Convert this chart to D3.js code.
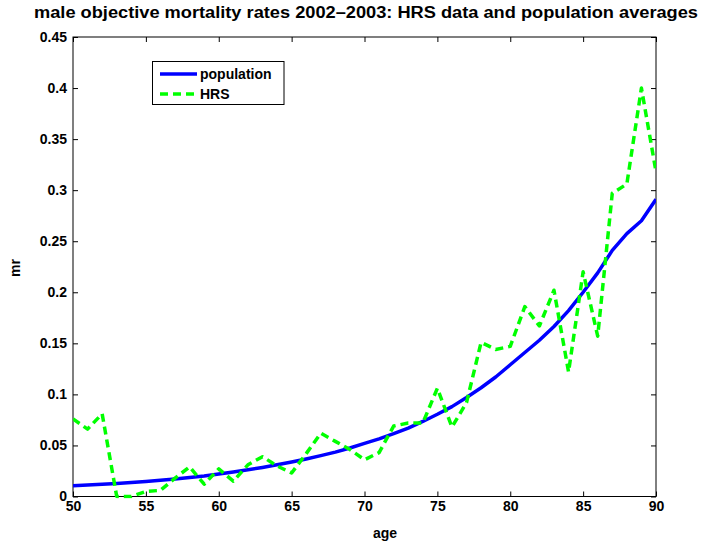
<!DOCTYPE html>
<html>
<head>
<meta charset="utf-8">
<script src="https://cdn.jsdelivr.net/npm/d3@7"></script>
<style>
  html, body { margin: 0; padding: 0; background: #fff; }
  svg { display: block; }
  text { font-family: "Liberation Sans", Arial, Helvetica, sans-serif; font-weight: bold; }
</style>
</head>
<body>
<svg id="chart" width="701" height="544"></svg>
<script>
// ---- data ----
const ages = d3.range(50, 91);
const population = [
  0.0105, 0.0112, 0.0120, 0.0128, 0.0137, 0.0148, 0.0160, 0.0172, 0.0185, 0.0200,
  0.0220, 0.0240, 0.0262, 0.0285, 0.0310, 0.0338, 0.0368, 0.0400, 0.0435, 0.0475,
  0.0520, 0.0565, 0.0615, 0.0670, 0.0735, 0.0805, 0.0880, 0.0970, 0.1065, 0.1170,
  0.1290, 0.1410, 0.1530, 0.1665, 0.1820, 0.2000, 0.2190, 0.2410, 0.2575, 0.2700,
  0.2910
];
const hrs = [
  0.076, 0.066, 0.081, 0.000, 0.000, 0.005, 0.006, 0.018, 0.029, 0.012,
  0.027, 0.015, 0.031, 0.039, 0.030, 0.023, 0.042, 0.062, 0.054, 0.046,
  0.036, 0.043, 0.069, 0.072, 0.072, 0.106, 0.068, 0.092, 0.151, 0.144,
  0.147, 0.186, 0.167, 0.202, 0.122, 0.220, 0.157, 0.297, 0.306, 0.400,
  0.318
];
const xTicks = [50, 55, 60, 65, 70, 75, 80, 85, 90];
const yTicks = [0, 0.05, 0.1, 0.15, 0.2, 0.25, 0.3, 0.35, 0.4, 0.45];
const seriesNames = ["population", "HRS"];
const titleText = "male objective mortality rates 2002\u20132003: HRS data and population averages";
const xLabel = "age";
const yLabel = "mr";

// ---- layout ----
const svg = d3.select("#chart");
svg.append("rect").attr("width", 701).attr("height", 544).attr("fill", "#fff");

const L = 73, R = 656, T = 37, B = 496.5;
const x = d3.scaleLinear().domain([50, 90]).range([L, R]);
const y = d3.scaleLinear().domain([0, 0.45]).range([B, T]);

const fs = 14;

// axes
const gx = svg.append("g").attr("transform", `translate(0,${B})`)
  .call(d3.axisBottom(x).tickValues(xTicks).tickFormat(d3.format("d")).tickSizeInner(-5).tickSizeOuter(0).tickPadding(5));
const gxt = svg.append("g").attr("transform", `translate(0,${T})`)
  .call(d3.axisTop(x).tickValues(xTicks).tickFormat("").tickSizeInner(-5).tickSizeOuter(0));
const yFmt = d => d === 0 ? "0" : d3.format("")(+d.toFixed(2));
const gy = svg.append("g").attr("transform", `translate(${L},0)`)
  .call(d3.axisLeft(y).tickValues(yTicks).tickFormat(yFmt).tickSizeInner(-5).tickSizeOuter(0).tickPadding(6));
const gyr = svg.append("g").attr("transform", `translate(${R},0)`)
  .call(d3.axisRight(y).tickValues(yTicks).tickFormat("").tickSizeInner(-5).tickSizeOuter(0));

[gx, gxt, gy, gyr].forEach(g => {
  g.select(".domain").remove();
  g.selectAll(".tick line").attr("stroke", "#000").attr("stroke-width", 1);
  g.selectAll("text").attr("font-size", fs).attr("fill", "#000")
    .style("font-family", '"Liberation Sans", Arial, sans-serif').style("font-weight", "bold");
});
gx.selectAll("text").attr("dy", "0.71em");

// box
svg.append("rect").attr("x", L).attr("y", T).attr("width", R - L).attr("height", B - T)
  .attr("fill", "none").attr("stroke", "#000").attr("stroke-width", 1);

// lines
const clipId = "plotclip";
svg.append("clipPath").attr("id", clipId).append("rect")
  .attr("x", L).attr("y", T - 2).attr("width", R - L).attr("height", B - T + 4);

const line = d3.line().x((d, i) => x(ages[i])).y(d => y(d));
const plot = svg.append("g").attr("clip-path", `url(#${clipId})`);
plot.append("path").datum(population).attr("d", line)
  .attr("fill", "none").attr("stroke", "#0000ff").attr("stroke-width", 3.5).attr("stroke-linejoin", "round");
plot.append("path").datum(hrs).attr("d", line)
  .attr("fill", "none").attr("stroke", "#00ff00").attr("stroke-width", 3.5)
  .attr("stroke-dasharray", "8,5").attr("stroke-linejoin", "round");

// title & labels
svg.append("text").attr("x", 366).attr("y", 18).attr("text-anchor", "middle")
  .attr("font-size", 16).attr("textLength", 664).attr("lengthAdjust", "spacingAndGlyphs")
  .text(titleText);
svg.append("text").attr("x", 385).attr("y", 538).attr("text-anchor", "middle")
  .attr("font-size", fs).text(xLabel);
svg.append("text").attr("transform", "translate(20,268) rotate(-90)").attr("text-anchor", "middle")
  .attr("font-size", fs).text(yLabel);

// legend
const lg = svg.append("g");
lg.append("rect").attr("x", 152.5).attr("y", 61.5).attr("width", 131.5).attr("height", 43)
  .attr("fill", "#fff").attr("stroke", "#000").attr("stroke-width", 1);
const legendColors = ["#0000ff", "#00ff00"];
const legendDash = [null, "8,5"];
seriesNames.forEach((name, i) => {
  const yy = 74 + i * 20;
  lg.append("line").attr("x1", 160).attr("x2", 197).attr("y1", yy).attr("y2", yy)
    .attr("stroke", legendColors[i]).attr("stroke-width", 3.5)
    .attr("stroke-dasharray", legendDash[i]);
  lg.append("text").attr("x", 200).attr("y", yy + 5).attr("font-size", fs).text(name);
});
</script>
</body>
</html>
